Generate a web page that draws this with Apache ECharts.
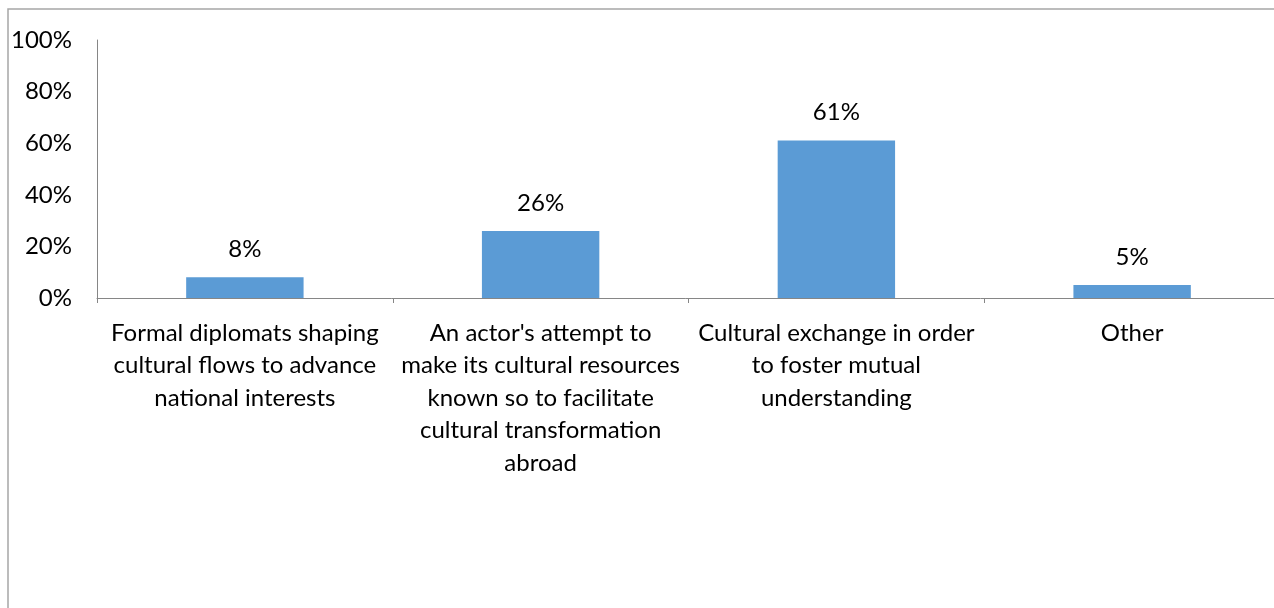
<!DOCTYPE html>
<html>
<head>
<meta charset="utf-8">
<script src="https://cdn.jsdelivr.net/npm/echarts@6/dist/echarts.min.js"></script>
<style>
  html, body { margin: 0; padding: 0; background: #fff; }
  #chart { width: 1274px; height: 608px; }
</style>
</head>
<body>
<div id="chart"></div>
<script>
// Survey responses: how cultural diplomacy is understood
const categories = [
  "Formal diplomats shaping\ncultural flows to advance\nnational interests",
  "An actor's attempt to\nmake its cultural resources\nknown so to facilitate\ncultural transformation\nabroad",
  "Cultural exchange in order\nto foster mutual\nunderstanding",
  "Other"
];
const shares = [8, 26, 61, 5];
const yTicks = { min: 0, max: 100, step: 20 };

const FONT = "Lato, 'Open Sans', sans-serif";
const chart = echarts.init(document.getElementById("chart"));
chart.setOption({
  animation: false,
  graphic: [{
    type: "rect",
    shape: { x: 8, y: 9, width: 1400, height: 800 },
    style: { fill: "none", stroke: "#a6a6a6", lineWidth: 1.5 },
    silent: true
  }],
  // plot area runs slightly past the right edge of the frame
  grid: {
    left: 97, top: 40, width: 1183, bottom: 310,
    containLabel: false, outerBoundsMode: "none"
  },
  xAxis: {
    type: "category",
    data: categories,
    axisLine: { lineStyle: { color: "#868686", width: 1 } },
    axisTick: { show: true, length: 5, alignWithLabel: false, lineStyle: { color: "#868686" } },
    axisLabel: {
      interval: 0,
      margin: 19,
      color: "#000",
      fontFamily: FONT,
      fontSize: 24,
      lineHeight: 32.5,
      align: "center"
    }
  },
  yAxis: {
    type: "value",
    min: yTicks.min,
    max: yTicks.max,
    interval: yTicks.step,
    axisLine: { show: true, lineStyle: { color: "#868686", width: 1 } },
    axisTick: { show: false },
    splitLine: { show: false },
    axisLabel: {
      formatter: "{value}%",
      margin: 25,
      color: "#000",
      fontFamily: FONT,
      fontSize: 24
    }
  },
  series: [{
    type: "bar",
    data: shares,
    barWidth: "39.7%",
    itemStyle: { color: "#5B9BD5" },
    label: {
      show: true,
      position: "top",
      distance: 16,
      formatter: "{c}%",
      color: "#000",
      fontFamily: FONT,
      fontSize: 24
    }
  }]
});
</script>
</body>
</html>
